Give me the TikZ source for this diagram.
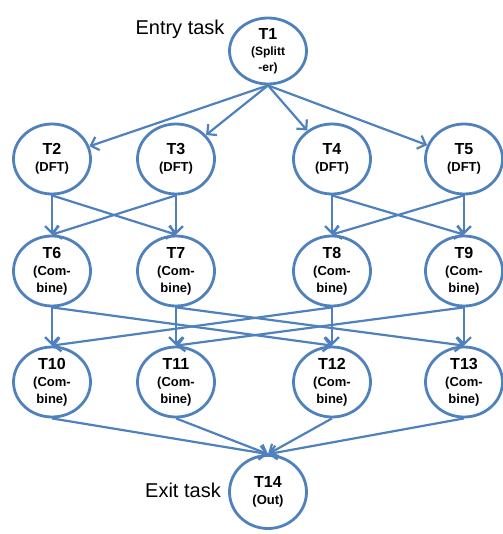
\documentclass[tikz,border=0pt]{standalone}
\usepackage{fontspec}
\setmainfont{Liberation Sans}
\usetikzlibrary{shapes.geometric,arrows.meta}

\definecolor{taskblue}{RGB}{79,129,189}

\tikzset{
    task/.style={ellipse, draw=taskblue, line width=2.8pt, fill=white,
        minimum width=77pt, minimum height=70pt, inner sep=0pt,
        align=center, font=\bfseries\fontsize{13}{17}\selectfont},
    dep/.style={draw=taskblue, line width=2.2pt,
        -{Straight Barb[length=7pt,width=14pt]}},
    side/.style={font=\fontsize{20}{22}\selectfont},
}

\newcommand{\tasklabel}[2]{%
    {\fontsize{16}{17}\selectfont #1}\\#2%
}

\begin{document}
\begin{tikzpicture}[x=1pt,y=-1pt]
            \useasboundingbox (0,0) rectangle (502,534);

            % Entry and exit tasks
            \node[task, minimum height=66pt,
                font=\bfseries\fontsize{12}{16}\selectfont] (t1) at (268,51)
                {\tasklabel{T1}{(Splitt\\-er)}};
            \node[task, minimum height=73pt] (t14) at (268,492) {\tasklabel{T14}{(Out)}};
            \node[side] (entry) at (180,29) {Entry task};
            \node[side] (exit) at (183,490) {Exit task};

            % DFT row and the two rows of combine tasks
            \foreach \n/\x in {2/52,3/176,4/332,5/464} {
                \node[task] (t\n) at (\x,159) {\tasklabel{T\n}{(DFT)}};
            }
            \foreach \n/\x in {6/52,7/176,8/332,9/464} {
                \node[task] (t\n) at (\x,271) {\tasklabel{T\n}{(Com-\\bine)}};
            }
            \foreach \n/\x in {10/52,11/176,12/332,13/464} {
                \node[task] (t\n) at (\x,382) {\tasklabel{T\n}{(Com-\\bine)}};
            }

            % Splitter to the DFT tasks
            \foreach \k in {2,...,5} {
                \draw[dep] (t1.south) -- (t\k);
            }

            % DFT to first combine row
            \foreach \a/\b in {2/6,2/7,3/6,3/7,4/8,4/9,5/8,5/9} {
                \draw[dep] (t\a.south) -- (t\b.north);
            }

            % First combine row to second one
            \foreach \a/\b in {6/10,6/12,7/11,7/13,8/10,8/12,9/11,9/13} {
                \draw[dep] (t\a.south) -- (t\b.north);
            }

            % Everything ends in the exit task
            \foreach \k in {10,...,13} {
                \draw[dep] (t\k.south) -- (t14.north);
            }
        \end{tikzpicture}
\end{document}
